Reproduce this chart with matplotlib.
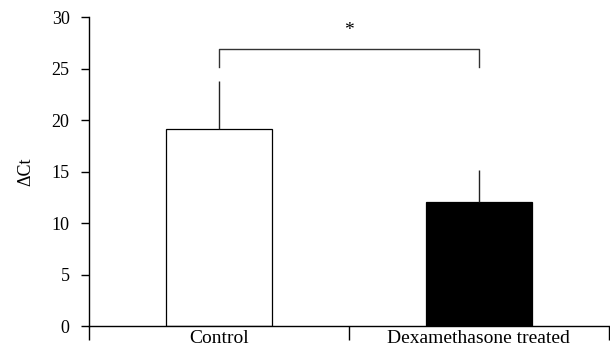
import matplotlib
matplotlib.use('Agg')
import matplotlib.pyplot as plt

groups = ['Control', 'Dexamethasone treated']
delta_ct = [19.15, 12.05]
err_up = [4.65, 3.1]
colors = ['white', 'black']
bracket_y = 26.9
bracket_leg = 25.2

plt.rcParams['font.family'] = ['Liberation Serif', 'DejaVu Serif']

fig = plt.figure(figsize=(6.1, 3.56), dpi=100)
ax = fig.add_axes([0.146, 0.084, 0.852, 0.868])

x = list(range(len(groups)))
ax.bar(x, delta_ct, width=0.41, color=colors, edgecolor='black', linewidth=0.9, zorder=2)
ax.errorbar(x, delta_ct, yerr=[[0] * len(x), err_up], fmt='none', ecolor='#222222',
            elinewidth=1.0, capsize=0, zorder=3)

# significance bracket
ax.plot([x[0], x[0], x[1], x[1]], [bracket_leg, bracket_y, bracket_y, bracket_leg],
        color='#333333', lw=1.0, clip_on=False)
ax.text((x[0] + x[1]) / 2, bracket_y + 1.0, '*', ha='center', va='bottom', fontsize=14)

ax.set_xlim(-0.5, 1.5)
ax.set_ylim(0, 30)
ax.set_yticks(range(0, 31, 5))
ax.set_xticks(x)
ax.set_xticklabels(groups, fontsize=14)
ax.set_xticks([-0.5, 0.5, 1.5], minor=True)
ax.tick_params(axis='x', which='major', length=0, pad=3)
ax.tick_params(axis='x', which='minor', length=10, width=1.0, direction='out')
ax.tick_params(axis='y', length=6, width=1.0, labelsize=13, pad=8)
ax.set_ylabel('ΔCt', fontsize=13, labelpad=12)

for s in ['top', 'right']:
    ax.spines[s].set_visible(False)
ax.spines['left'].set_linewidth(1.0)
ax.spines['bottom'].set_linewidth(1.0)
ax.spines['left'].set_bounds(0, 30)

fig.savefig('out.png', dpi=100)
